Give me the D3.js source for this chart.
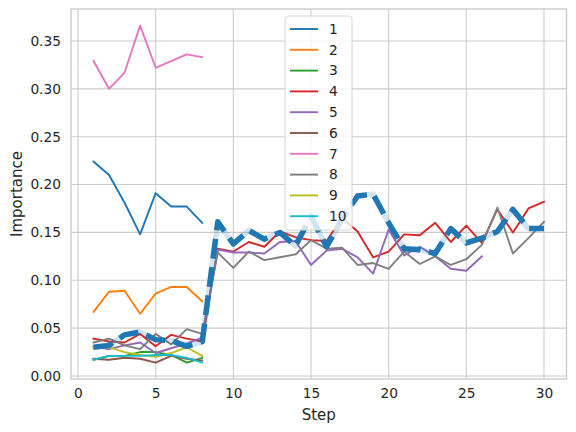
<!DOCTYPE html>
<html>
<head>
<meta charset="utf-8">
<script src="https://cdn.jsdelivr.net/npm/d3@7"></script>
<style>
  body { margin: 0; background: #fff; }
  text { font-family: "DejaVu Sans", sans-serif; fill: #262626; }
</style>
</head>
<body>
<div id="chart"></div>
<script>
// steps on the x axis
var steps = [1, 2, 3, 4, 5, 6, 7, 8, 9, 10, 11, 12, 13, 14, 15,
             16, 17, 18, 19, 20, 21, 22, 23, 24, 25, 26, 27, 28, 29, 30];

// importance per series (each starts at step 1)
var s1 = [0.224, 0.210, 0.181, 0.148, 0.191, 0.177, 0.177, 0.160];
var s2 = [0.067, 0.088, 0.089, 0.065, 0.086, 0.093, 0.093, 0.078];
var s3 = [0.017, 0.021, 0.021, 0.025, 0.025, 0.022, 0.014, 0.019];
var s4 = [0.039, 0.036, 0.035, 0.044, 0.031, 0.043, 0.039, 0.036, 0.133, 0.130,
          0.140, 0.135, 0.151, 0.145, 0.142, 0.141, 0.165, 0.151, 0.124, 0.130,
          0.148, 0.147, 0.160, 0.140, 0.157, 0.139, 0.174, 0.150, 0.175, 0.182];
var s5 = [0.031, 0.028, 0.032, 0.035, 0.024, 0.029, 0.034, 0.040, 0.132, 0.129,
          0.129, 0.128, 0.140, 0.141, 0.116, 0.131, 0.133, 0.124, 0.107, 0.153,
          0.126, 0.135, 0.125, 0.112, 0.110, 0.125];
var s6 = [0.018, 0.017, 0.019, 0.018, 0.014, 0.021, 0.018, 0.016];
var s7 = [0.329, 0.300, 0.317, 0.366, 0.322, 0.329, 0.336, 0.333];
var s8 = [0.035, 0.039, 0.032, 0.028, 0.044, 0.033, 0.049, 0.044, 0.129, 0.113,
          0.130, 0.121, 0.124, 0.127, 0.142, 0.133, 0.134, 0.116, 0.118, 0.112,
          0.130, 0.117, 0.125, 0.116, 0.122, 0.137, 0.176, 0.128, 0.144, 0.161];
var s9 = [0.029, 0.030, 0.025, 0.022, 0.020, 0.024, 0.030, 0.021];
var s10 = [0.017, 0.021, 0.021, 0.021, 0.022, 0.022, 0.019, 0.014];

// highlighted (thick dashed) trace
var highlight = [0.030, 0.032, 0.043, 0.046, 0.038, 0.037, 0.031, 0.036, 0.161, 0.138,
                 0.152, 0.143, 0.150, 0.136, 0.167, 0.135, 0.164, 0.188, 0.190, 0.160,
                 0.133, 0.132, 0.128, 0.154, 0.139, 0.144, 0.151, 0.174, 0.154, 0.154];

var seriesNames = ['1', '2', '3', '4', '5', '6', '7', '8', '9', '10'];
var seriesValues = [s1, s2, s3, s4, s5, s6, s7, s8, s9, s10];
var colors = ['#1f77b4', '#ff7f0e', '#2ca02c', '#d62728', '#9467bd',
              '#8c564b', '#e377c2', '#7f7f7f', '#bcbd22', '#17becf'];

var xTicks = [0, 5, 10, 15, 20, 25, 30];
var yTicks = [0.00, 0.05, 0.10, 0.15, 0.20, 0.25, 0.30, 0.35];

var W = 576, H = 432;
var plot = {left: 71, right: 566.5, top: 9, bottom: 379};

var x = d3.scaleLinear().domain([-0.45, 31.45]).range([plot.left, plot.right]);
var y = d3.scaleLinear().domain([-0.00313, 0.3834]).range([plot.bottom, plot.top]);

var svg = d3.select('#chart').append('svg')
    .attr('width', W)
    .attr('height', H);

svg.append('rect').attr('width', W).attr('height', H).attr('fill', '#fff');

// grid
var grid = svg.append('g').attr('class', 'grid')
    .attr('stroke', '#cccccc').attr('stroke-width', 1.1);
grid.selectAll('line.gx').data(xTicks).enter().append('line')
    .attr('x1', function(d){ return x(d); }).attr('x2', function(d){ return x(d); })
    .attr('y1', plot.top).attr('y2', plot.bottom);
grid.selectAll('line.gy').data(yTicks).enter().append('line')
    .attr('y1', function(d){ return y(d); }).attr('y2', function(d){ return y(d); })
    .attr('x1', plot.left).attr('x2', plot.right);

// frame
svg.append('rect')
    .attr('x', plot.left).attr('y', plot.top)
    .attr('width', plot.right - plot.left).attr('height', plot.bottom - plot.top)
    .attr('fill', 'none').attr('stroke', '#cccccc').attr('stroke-width', 1.4);

// axes (labels only, seaborn style has no tick marks)
var xAxis = d3.axisBottom(x).tickValues(xTicks).tickSize(0).tickPadding(9)
    .tickFormat(d3.format('d'));
var yAxis = d3.axisLeft(y).tickValues(yTicks).tickSize(0).tickPadding(10)
    .tickFormat(d3.format('.2f'));

var gx = svg.append('g')
    .attr('transform', 'translate(0,' + plot.bottom + ')')
    .call(xAxis);
var gy = svg.append('g')
    .attr('transform', 'translate(' + plot.left + ',0)')
    .call(yAxis);
[gx, gy].forEach(function(g){
  g.select('.domain').remove();
  g.selectAll('text')
    .style('font-size', '13.75px')
    .style('font-family', '"DejaVu Sans", sans-serif')
    .attr('fill', '#262626');
});

svg.append('text')
    .attr('x', (plot.left + plot.right) / 2)
    .attr('y', 420)
    .attr('text-anchor', 'middle')
    .style('font-size', '15px')
    .text('Step');

svg.append('text')
    .attr('transform', 'translate(22,' + ((plot.top + plot.bottom) / 2) + ') rotate(-90)')
    .attr('text-anchor', 'middle')
    .style('font-size', '15px')
    .text('Importance');

// lines
var line = d3.line()
    .x(function(d, i){ return x(steps[i]); })
    .y(function(d){ return y(d); });

var lines = svg.append('g').attr('fill', 'none');
lines.selectAll('path.series')
    .data(seriesValues)
  .enter().append('path')
    .attr('class', 'series')
    .attr('d', line)
    .attr('stroke', function(d, i){ return colors[i]; })
    .attr('stroke-width', 1.9)
    .attr('stroke-linejoin', 'round')
    .attr('stroke-linecap', 'square');

// faint underlay + dashed highlight
lines.append('path')
    .attr('d', line(highlight))
    .attr('stroke', '#1f77b4')
    .attr('stroke-opacity', 0.2)
    .attr('stroke-width', 5.5)
    .attr('stroke-linejoin', 'round');
lines.append('path')
    .attr('d', line(highlight))
    .attr('stroke', '#1f77b4')
    .attr('stroke-width', 5.5)
    .attr('stroke-dasharray', '20,8.5')
    .attr('stroke-linejoin', 'round');

// legend
var legend = svg.append('g').attr('class', 'legend');
legend.append('rect')
    .attr('x', 285).attr('y', 16)
    .attr('width', 67).attr('height', 214)
    .attr('rx', 3)
    .attr('fill', '#fff').attr('fill-opacity', 0.8)
    .attr('stroke', '#d6d6d6').attr('stroke-width', 1);

var rowH = 20.8;
var item = legend.selectAll('g.item')
    .data(seriesNames)
  .enter().append('g')
    .attr('class', 'item')
    .attr('transform', function(d, i){ return 'translate(0,' + (29 + i * rowH) + ')'; });
item.append('line')
    .attr('x1', 290).attr('x2', 318)
    .attr('stroke', function(d, i){ return colors[i]; })
    .attr('stroke-width', 1.9);
item.append('text')
    .attr('x', 329)
    .attr('dy', '0.35em')
    .style('font-size', '13.75px')
    .text(function(d){ return d; });
</script>
</body>
</html>
